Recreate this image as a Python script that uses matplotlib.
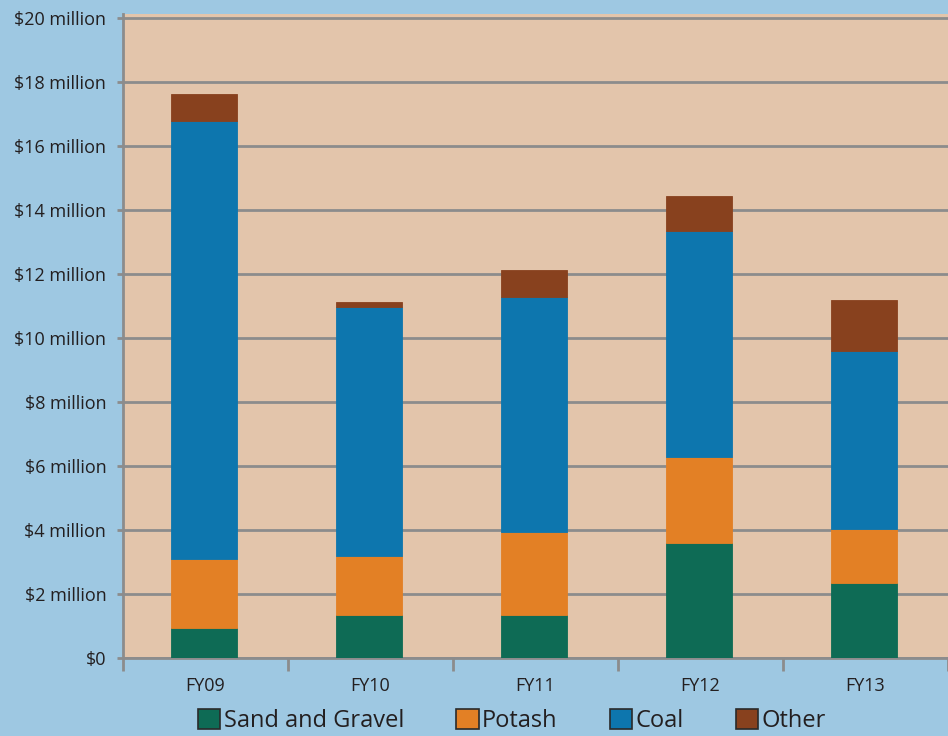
import matplotlib
matplotlib.use("Agg")
import matplotlib.pyplot as plt
import numpy as np

years = ["FY09", "FY10", "FY11", "FY12", "FY13"]
series_names = ["Sand and Gravel", "Potash", "Coal", "Other"]
sand_gravel = [0.94, 1.34, 1.34, 3.59, 2.34]
potash = [2.15, 1.85, 2.60, 2.69, 1.69]
coal = [13.69, 7.78, 7.34, 7.06, 5.56]
other = [0.85, 0.16, 0.85, 1.10, 1.60]
y_ticks = [0, 2, 4, 6, 8, 10, 12, 14, 16, 18, 20]
y_labels = ["$0"] + [f"${v} million" for v in y_ticks[1:]]

colors = ["#0e6b55", "#e38025", "#0d76ae", "#88411e"]
fig_bg = "#9ec8e2"
plot_bg = "#e3c5ab"
grid_col = "#8c8c8c"

plt.rcParams["font.family"] = ["Open Sans", "DejaVu Sans"]

fig = plt.figure(figsize=(9.48, 7.36), dpi=100, facecolor=fig_bg)
ax = fig.add_axes([123 / 948, 1 - 658 / 736, 1 - 123 / 948, 644 / 736])
ax.set_facecolor(plot_bg)

x = np.arange(len(years))
bottom = np.zeros(len(years))
handles = []
for name, vals, col in zip(series_names, [sand_gravel, potash, coal, other], colors):
    b = ax.bar(x - 0.01, vals, width=0.4, bottom=bottom, color=col, label=name,
               edgecolor=col, linewidth=0.6, zorder=3)
    handles.append(b)
    bottom += np.array(vals)

ax.set_xlim(-0.5, len(years) - 0.5)
ax.set_ylim(0, 20.125)
ax.set_yticks(y_ticks)
ax.set_yticklabels(y_labels, fontsize=13, color="#231f20")
ax.set_xticks(x)
ax.set_xticklabels(years, fontsize=13, color="#231f20")
ax.set_xticks(np.arange(-0.5, len(years)), minor=True)
ax.tick_params(axis="x", which="major", length=0, pad=14)
ax.tick_params(axis="x", which="minor", length=9, width=2, color=grid_col)
ax.tick_params(axis="y", length=4, width=2, color=grid_col, pad=8)

ax.grid(axis="y", color=grid_col, linewidth=2, zorder=1)
ax.set_axisbelow(True)
for s in ["top", "right"]:
    ax.spines[s].set_visible(False)
for s in ["left", "bottom"]:
    ax.spines[s].set_color(grid_col)
    ax.spines[s].set_linewidth(2)

leg = fig.legend(handles=handles, labels=series_names, loc="center",
                 bbox_to_anchor=(0.540, 1 - 721 / 736), ncol=4, frameon=False,
                 fontsize=17, handlelength=0.95, handleheight=0.95,
                 handletextpad=0.15, columnspacing=2.2, labelcolor="#231f20")
for h in leg.legend_handles:
    h.set_edgecolor("#2a2a2a")
    h.set_linewidth(1.2)

fig.savefig("out.png", dpi=100, facecolor=fig_bg)
